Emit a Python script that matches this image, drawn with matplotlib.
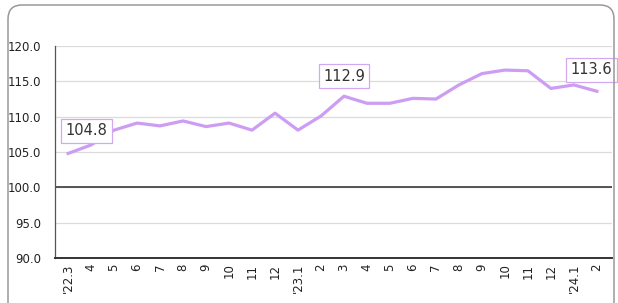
import matplotlib.pyplot as plt
from matplotlib.patches import FancyBboxPatch
from matplotlib.transforms import IdentityTransform

# monthly index values, 2022.3 - 2024.2
months = ["'22.3", "4", "5", "6", "7", "8", "9", "10", "11", "12",
          "'23.1", "2", "3", "4", "5", "6", "7", "8", "9", "10", "11", "12",
          "'24.1", "2"]
values = [104.8, 106.0, 108.1, 109.1, 108.7, 109.4, 108.6, 109.1, 108.1, 110.5,
          108.1, 110.1, 112.9, 111.9, 111.9, 112.6, 112.5, 114.5, 116.1, 116.6,
          116.5, 114.0, 114.5, 113.6]
yticks = [90, 95, 100, 105, 110, 115, 120]

# labelled points: index, x offset (pt), y offset (pt), horizontal alignment
labels = [(0, -2, 11, "left"), (12, 0, 9, "center"), (23, -4, 10, "center")]

fig = plt.figure(figsize=(6.18, 3.03), dpi=100)
ax = fig.add_axes([0.089, 0.1485, 0.901, 0.6995])

# rounded frame around the whole chart (pixel coordinates)
frame = FancyBboxPatch((8, -20), 606, 318,
                       boxstyle="round,pad=0,rounding_size=14",
                       transform=IdentityTransform(), fill=False,
                       edgecolor="#999999", linewidth=1.1)
fig.patches.append(frame)

x = list(range(len(values)))
ax.plot(x, values, color="#cc9df2", linewidth=2.3, zorder=3)

ax.axhline(100, color="#3a3a3a", linewidth=1.2, zorder=2)

ax.set_ylim(90, 120)
ax.set_xlim(-0.57, 23.65)
ax.set_yticks(yticks)
ax.set_yticklabels([f"{v:.1f}" for v in yticks])
ax.set_xticks(x)
ax.set_xticklabels(months, rotation=90)

ax.grid(axis="y", color="#dcdcdc", linewidth=0.9, zorder=0)
ax.set_axisbelow(True)

for side in ["top", "right"]:
    ax.spines[side].set_visible(False)
ax.spines["left"].set_color("#555555")
ax.spines["left"].set_linewidth(0.9)
ax.spines["bottom"].set_color("#333333")
ax.spines["bottom"].set_linewidth(1.4)

ax.tick_params(axis="both", length=0, labelsize=8.5, labelcolor="#222222")
ax.tick_params(axis="y", pad=10)
ax.tick_params(axis="x", pad=4)

for i, dx, dy, ha in labels:
    ax.annotate(f"{values[i]:.1f}", (x[i], values[i]),
                xytext=(dx, dy), textcoords="offset points",
                ha=ha, va="bottom", fontsize=10.5, color="#333333",
                bbox=dict(boxstyle="square,pad=0.3", facecolor="white",
                          edgecolor="#d2a8f0", linewidth=0.9),
                zorder=4)

fig.savefig("out.png", dpi=100)
